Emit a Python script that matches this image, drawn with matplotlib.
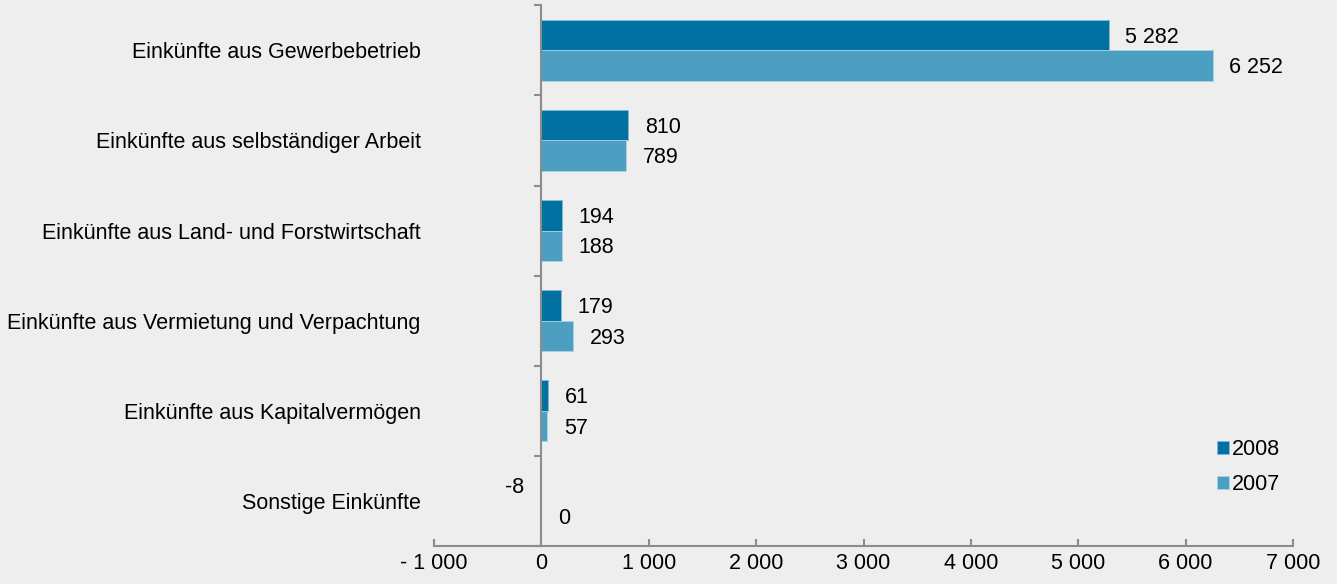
import matplotlib
matplotlib.use("Agg")
import matplotlib.pyplot as plt
from matplotlib.ticker import FuncFormatter, FixedLocator

categories = [
    "Einkünfte aus Gewerbebetrieb",
    "Einkünfte aus selbständiger Arbeit",
    "Einkünfte aus Land- und Forstwirtschaft",
    "Einkünfte aus Vermietung und Verpachtung",
    "Einkünfte aus Kapitalvermögen",
    "Sonstige Einkünfte",
]
values_2008 = [5282, 810, 194, 179, 61, -8]
values_2007 = [6252, 789, 188, 293, 57, 0]
series_labels = ["2008", "2007"]
xticks = [-1000, 0, 1000, 2000, 3000, 4000, 5000, 6000, 7000]

c2008 = "#0071a1"
c2007 = "#4d9fc2"
bg = "#eeeeee"
grey = "#8c8c8c"

plt.rcParams["font.family"] = ["Liberation Sans", "DejaVu Sans"]
plt.rcParams["font.size"] = 15.5


def fmt(v, pos=None):
    s = f"{abs(int(v)):,}".replace(",", " ")
    if v < 0:
        return "- " + s
    return s


fig = plt.figure(figsize=(13.37, 5.84), dpi=100, facecolor=bg)
ax = fig.add_axes([0.3246, 0.065, 0.6425, 0.926], facecolor=bg)

h = 0.34
pos = list(range(len(categories)))
y08 = [p - h / 2 for p in pos]
y07 = [p + h / 2 for p in pos]
ax.barh(y08, values_2008, height=h, color=c2008, edgecolor="#7fbcd8",
        linewidth=0.6, label=series_labels[0])
ax.barh(y07, values_2007, height=h, color=c2007, edgecolor="#a9d3e6",
        linewidth=0.6, label=series_labels[1])

for ys, vals in ((y08, values_2008), (y07, values_2007)):
    for y, v in zip(ys, vals):
        if v < 0:
            ax.annotate(str(v), (v, y), xytext=(-12, -1), textcoords="offset points",
                        ha="right", va="center", fontsize=15.5)
        else:
            ax.annotate(fmt(v), (v, y), xytext=(12, -1.5), textcoords="offset points",
                        ha="left", va="center", fontsize=15.5)

ax.set_xlim(-1000, 7000)
ax.set_ylim(len(categories) - 0.5, -0.5)

ax.spines["top"].set_visible(False)
ax.spines["right"].set_visible(False)
ax.spines["left"].set_position(("data", 0))
for s in ("left", "bottom"):
    ax.spines[s].set_color(grey)
    ax.spines[s].set_linewidth(1.5)

ax.set_xticks(xticks)
ax.xaxis.set_major_formatter(FuncFormatter(fmt))
ax.tick_params(axis="x", direction="in", length=5, width=1.5, color=grey,
               labelsize=15.5, pad=5)

ax.set_yticks(pos)
ax.set_yticklabels(categories)
ax.yaxis.set_minor_locator(FixedLocator([p - 0.5 for p in pos] + [len(pos) - 0.5]))
ax.tick_params(axis="y", which="major", length=0, pad=87, labelsize=15.5)
ax.tick_params(axis="y", which="minor", length=5, width=1.5, color=grey)

ax.legend(loc="upper left", bbox_to_anchor=(0.889, 0.234), frameon=False,
          handlelength=0.55, handleheight=0.55, handletextpad=0.15,
          labelspacing=0.65, fontsize=15.5)

fig.savefig("out.png", dpi=100, facecolor=bg)
